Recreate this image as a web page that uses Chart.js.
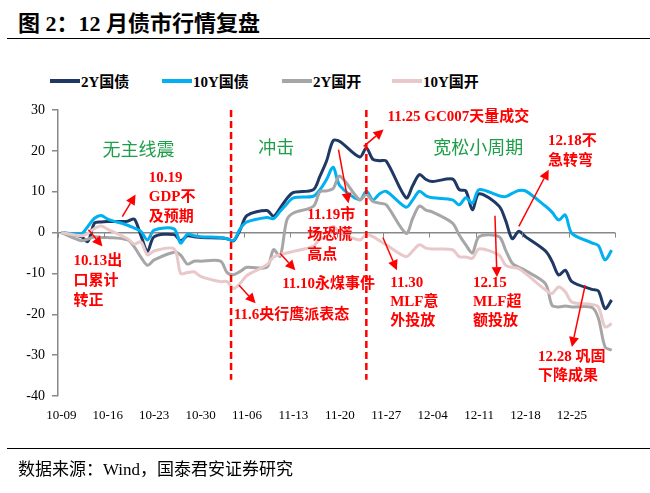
<!DOCTYPE html>
<html lang="zh">
<head>
<meta charset="UTF-8">
<title>12月债市行情复盘</title>
<script src="https://cdn.jsdelivr.net/npm/chart.js"></script>
<style>
  body { margin: 0; background: #fff; }
  .page { position: relative; width: 650px; height: 493px; overflow: hidden; font-family: 'Liberation Serif', 'Noto Sans CJK SC', serif; color: #000; }
  .title { position: absolute; left: 18px; top: 5px; font-size: 22px; font-weight: bold; white-space: nowrap; }
  .rule { position: absolute; left: 7px; right: 0; height: 0; border-top: 1.5px solid #000; }
  .legend-item { position: absolute; top: 70px; display: flex; align-items: center; font-size: 15px; font-weight: bold; white-space: nowrap; }
  .legend-item i { display: inline-block; width: 30px; height: 4px; margin-right: 1px; }
  .source { position: absolute; left: 18px; top: 455px; font-size: 17px; white-space: nowrap; }
  canvas { position: absolute; left: 0; top: 0; }
</style>
</head>
<body>
<div class="page">
  <div class="title">图 2：12 月债市行情复盘</div>
  <div class="rule" style="top:38px"></div>
  <div id="legend"></div>
  <canvas id="chart" width="650" height="493"></canvas>
  <div class="rule" style="top:448px"></div>
  <div class="source">数据来源：Wind，国泰君安证券研究</div>
</div>
<script>
// trading days (2020)
const dates = ['10-09',
  '10-12','10-13','10-14','10-15','10-16',
  '10-19','10-20','10-21','10-22','10-23',
  '10-26','10-27','10-28','10-29','10-30',
  '11-02','11-03','11-04','11-05','11-06',
  '11-09','11-10','11-11','11-12','11-13',
  '11-16','11-17','11-18','11-19','11-20',
  '11-23','11-24','11-25','11-26','11-27',
  '11-30','12-01','12-02','12-03','12-04',
  '12-07','12-08','12-09','12-10','12-11',
  '12-14','12-15','12-16','12-17','12-18',
  '12-21','12-22','12-23','12-24','12-25',
  '12-28','12-29','12-30','12-31'];

const tickLabels = ['10-09','10-16','10-23','10-30','11-06','11-13','11-20','11-27','12-04','12-11','12-18','12-25'];

// cumulative change, bp
const gz2 = [0,
  -1.0, -2.2, 2.3, 2.6, 2.7,
  2.8, 3.3, -0.7, -4.6, -1.0,
  -0.5, -2.0, -0.8, -1.0, -1.2,
  -1.3, -1.5, -2.0, 0.8, 4.2,
  5.4, 4.0, 6.0, 8.3, 9.8,
  10.5, 13.8, 17.5, 22.5, 22.3,
  18.5, 20.7, 17.9, 17.6, 17.5,
  8.5, 11.5, 14.2, 13.0, 12.5,
  13.1, 10.5, 10.2, 5.6, 9.5,
  6.5, 3.0, -1.5, 0.3, -1.0,
  -4.5, -7.0, -10.4, -9.2, -12.0,
  -13.9, -14.3, -18.6, -16.5];

const gz10 = [0,
  -0.3, 1.5, 3.5, 4.2, 3.3,
  1.8, 1.1, 0.3, -1.8, 0.6,
  0.9, -2.6, -0.4, -0.8, -1.0,
  -1.2, -1.5, -1.9, 1.0, 2.6,
  3.7, 3.4, 5.2, 7.0, 8.5,
  8.9, 10.5, 13.0, 16.0, 11.5,
  8.0, 10.1, 8.0, 9.5, 10.1,
  6.2, 8.0, 10.1, 9.0, 8.5,
  8.0, 6.8, 8.5, 7.2, 10.5,
  9.0, 8.8, 9.6, 10.3, 10.2,
  6.5, 5.0, 3.1, 4.3, -0.2,
  -2.5, -3.2, -6.7, -4.3];

const gk2 = [0,
  -2.0, -1.6, -1.0, -1.2, -1.2,
  -1.8, -3.5, -6.0, -8.0, -6.7,
  -4.8, -5.5, -7.7, -7.0, -7.0,
  -7.0, -9.8, -10.3, -9.5, -8.5,
  -8.5, -4.2, -5.8, 3.0, 4.8,
  6.4, 10.0, 10.2, 10.8, 13.8,
  8.0, 9.3, 7.6, 7.2, 6.8,
  -0.2, 3.5, 6.5, 5.5, 5.0,
  2.3, -0.6, -3.0, -5.0, -1.0,
  -1.0, -4.3, -7.5, -8.5, -9.3,
  -12.5, -17.8, -18.2, -18.0, -18.2,
  -18.3, -21.0, -28.0, -28.8];

const gk10 = [0,
  -0.8, -0.2, 1.0, 1.6, 0.8,
  -1.5, -2.8, -2.3, -5.5, -4.5,
  -4.0, -10.0, -9.8, -9.6, -10.7,
  -12.0, -12.0, -13.7, -12.4, -10.5,
  -7.9, -6.0, -5.4, -5.0, -4.6,
  -3.4, -1.5, -1.0, 1.5, 0.0,
  -1.8, -0.5, -1.0, -2.0, -3.0,
  -5.9, -4.5, -3.0, -3.8, -4.0,
  -4.2, -5.9, -6.0, -6.3, -4.0,
  -5.5, -8.0, -8.5, -8.8, -10.0,
  -14.0, -14.9, -13.3, -14.5, -17.0,
  -17.6, -18.2, -23.1, -22.3];

const seriesNames = ['2Y国债', '10Y国债', '2Y国开', '10Y国开'];
const seriesValues = [gz2, gz10, gk2, gk10];
const seriesColors = ['#1F3864', '#00B0F0', '#A6A6A6', '#E8C8C8'];

// red dashed phase dividers, days after 10-09
const breakDays = [25.6, 46];

const RED = '#FF0000';
const GREEN = '#1E9E48';

// event notes: anchor (days after 10-09, bp) of first text line
const notes = [
  { x: 13.2, y: 13.4, lines: ['10.19', 'GDP不', '及预期'], gap: 19.5 },
  { x: 1.85, y: -6.9, lines: ['10.13出', '口累计', '转正'], gap: 20 },
  { x: 49.2, y: 28.2, lines: ['11.25 GC007天量成交'], gap: 0 },
  { x: 37.1, y: 4.3, lines: ['11.19市', '场恐慌', '高点'], gap: 20 },
  { x: 33.3, y: -12.6, lines: ['11.10永煤事件'], gap: 0 },
  { x: 26.0, y: -20.2, lines: ['11.6央行鹰派表态'], gap: 0 },
  { x: 49.6, y: -12.4, lines: ['11.30', 'MLF意', '外投放'], gap: 19 },
  { x: 62.1, y: -12.4, lines: ['12.15', 'MLF超', '额投放'], gap: 19 },
  { x: 73.4, y: 22.4, lines: ['12.18不', '急转弯'], gap: 20 },
  { x: 71.9, y: -30.5, lines: ['12.28 巩固', '下降成果'], gap: 18.5 }
];
const phases = [
  { x: 6.2, y: 20.3, text: '无主线震' },
  { x: 29.7, y: 20.8, text: '冲击' },
  { x: 56.1, y: 20.8, text: '宽松小周期' }
];
// arrows [fromX, fromY, toX, toY]
const arrows = [
  [9.2, 3.9, 11.2, 9.3],
  [4.1, 0.7, 6.2, -3.4],
  [45.6, 21.1, 48.6, 25.2],
  [41.8, 20.3, 43.3, 7.2],
  [33.0, -5.1, 35.3, -9.2],
  [26.8, -12.9, 29.3, -17.3],
  [48.5, -1.2, 50.6, -9.2],
  [65.4, 4.1, 65.7, -10.9],
  [69.0, 1.5, 73.5, 15.4],
  [79.0, -12.9, 77.0, -28.0]
];

function dayOf(md) {
  const [m, d] = md.split('-').map(Number);
  return Math.round((Date.UTC(2020, m - 1, d) - Date.UTC(2020, 9, 9)) / 86400000);
}
const days = dates.map(dayOf);
const tickDays = tickLabels.map(dayOf);

// legend
const legendLeft = [50, 162, 282, 392];
const legendEl = document.getElementById('legend');
seriesNames.forEach((name, i) => {
  const item = document.createElement('div');
  item.className = 'legend-item';
  item.style.left = legendLeft[i] + 'px';
  item.innerHTML = '<i style="background:' + seriesColors[i] + '"></i>' + name;
  legendEl.appendChild(item);
});

const datasets = seriesNames.map((name, i) => ({
  label: name,
  data: days.map((d, j) => ({ x: d, y: seriesValues[i][j] })),
  borderColor: seriesColors[i],
  borderWidth: 3,
  pointRadius: 0,
  tension: 0.3,
  fill: false,
  order: 4 - i
}));
breakDays.forEach(d => {
  datasets.push({
    label: '',
    data: [{ x: d, y: 30 }, { x: d, y: -36 }],
    borderColor: RED,
    borderWidth: 2.5,
    borderDash: [7, 4],
    pointRadius: 0,
    order: 0
  });
});

const notesPlugin = {
  id: 'notes',
  afterDatasetsDraw(chart) {
    const { ctx, scales: { x, y } } = chart;
    ctx.save();
    // small ticks on the zero line
    ctx.strokeStyle = '#888';
    ctx.lineWidth = 1;
    const y0 = y.getPixelForValue(0);
    for (let k = 0; k <= 12; k++) {
      const px = Math.round(x.getPixelForValue(-0.5 + 7 * k)) + 0.5;
      ctx.beginPath();
      ctx.moveTo(px, y0);
      ctx.lineTo(px, y0 + 5);
      ctx.stroke();
    }
    // arrows
    ctx.strokeStyle = RED;
    ctx.fillStyle = RED;
    ctx.lineWidth = 1.5;
    arrows.forEach(a => {
      const x1 = x.getPixelForValue(a[0]), y1 = y.getPixelForValue(a[1]);
      const x2 = x.getPixelForValue(a[2]), y2 = y.getPixelForValue(a[3]);
      const ang = Math.atan2(y2 - y1, x2 - x1);
      const hl = 10, hw = 5;
      const bx = x2 - hl * Math.cos(ang), by = y2 - hl * Math.sin(ang);
      ctx.beginPath();
      ctx.moveTo(x1, y1);
      ctx.lineTo(bx, by);
      ctx.stroke();
      ctx.beginPath();
      ctx.moveTo(x2, y2);
      ctx.lineTo(bx + hw * Math.sin(ang), by - hw * Math.cos(ang));
      ctx.lineTo(bx - hw * Math.sin(ang), by + hw * Math.cos(ang));
      ctx.closePath();
      ctx.fill();
    });
    // red notes
    ctx.textAlign = 'left';
    ctx.textBaseline = 'middle';
    ctx.font = 'bold 15px "Liberation Serif", "Noto Sans CJK SC"';
    notes.forEach(n => {
      const px = x.getPixelForValue(n.x), py = y.getPixelForValue(n.y);
      n.lines.forEach((t, i) => ctx.fillText(t, px, py + i * n.gap));
    });
    // green phase names
    ctx.fillStyle = GREEN;
    ctx.font = '18px "Noto Sans CJK SC"';
    phases.forEach(p => ctx.fillText(p.text, x.getPixelForValue(p.x), y.getPixelForValue(p.y)));
    ctx.restore();
  }
};

new Chart(document.getElementById('chart'), {
  type: 'line',
  data: { datasets },
  options: {
    responsive: false,
    animation: false,
    layout: { padding: { top: 110, right: 35, left: 0, bottom: 0 } },
    plugins: { legend: { display: false }, tooltip: { enabled: false } },
    scales: {
      x: {
        type: 'linear',
        min: -0.5,
        max: 83.5,
        afterFit: s => { s.height = 97; },
        afterBuildTicks: s => { s.ticks = tickDays.map(v => ({ value: v })); },
        grid: { display: false },
        border: { display: false },
        ticks: {
          autoSkip: false,
          maxRotation: 0,
          padding: 4,
          color: '#000',
          font: { family: 'Liberation Serif', size: 13 },
          callback: v => tickLabels[tickDays.indexOf(v)]
        }
      },
      y: {
        min: -40,
        max: 30,
        afterFit: s => { s.width = 58; },
        grid: {
          color: c => (c.tick && c.tick.value === 0 ? '#888' : 'rgba(0,0,0,0)'),
          lineWidth: 1.5,
          tickColor: '#888',
          tickLength: 6
        },
        border: { display: true, color: '#888', width: 1.5 },
        ticks: {
          stepSize: 10,
          padding: 7,
          color: '#000',
          font: { family: 'Liberation Serif', size: 14 }
        }
      }
    }
  },
  plugins: [notesPlugin]
});
</script>
</body>
</html>
